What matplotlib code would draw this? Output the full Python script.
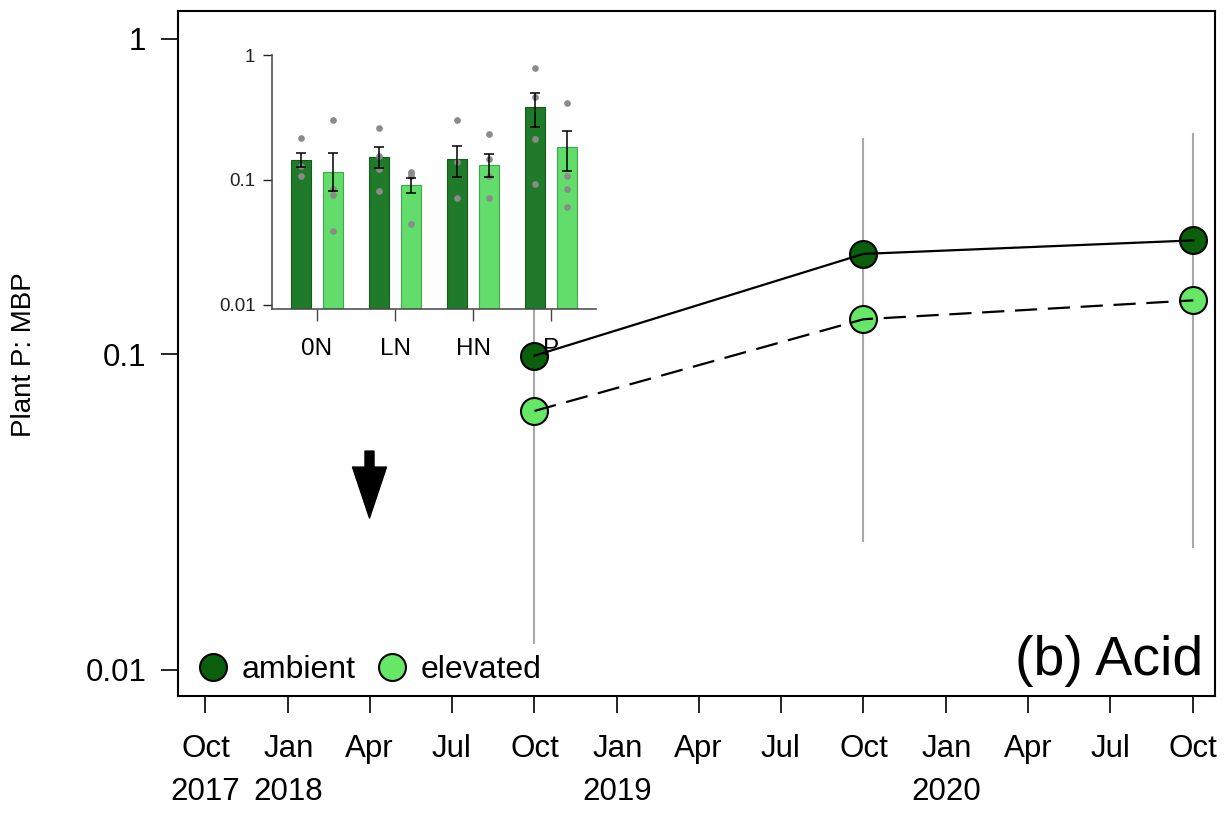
import datetime as dt
import matplotlib
matplotlib.use("Agg")
import matplotlib.pyplot as plt
import matplotlib.dates as mdates
from matplotlib.lines import Line2D

plt.rcParams['font.family'] = ['Liberation Sans', 'DejaVu Sans']

# main panel data
dates = [dt.date(2018, 10, 1), dt.date(2019, 10, 1), dt.date(2020, 10, 1)]
ambient = [0.0991, 0.2083, 0.2299]
elevated = [0.0662, 0.1293, 0.1484]
range_lo = [0.01218, 0.02557, 0.02458]
range_hi = [0.45, 0.4834, 0.5013]

arrow_date = dt.date(2018, 4, 1)
arrow_top = 0.0494
arrow_tip = 0.0303

tick_dates = [dt.date(2017, 10, 1), dt.date(2018, 1, 1), dt.date(2018, 4, 1),
              dt.date(2018, 7, 1), dt.date(2018, 10, 1), dt.date(2019, 1, 1),
              dt.date(2019, 4, 1), dt.date(2019, 7, 1), dt.date(2019, 10, 1),
              dt.date(2020, 1, 1), dt.date(2020, 4, 1), dt.date(2020, 7, 1),
              dt.date(2020, 10, 1)]
tick_labels = ['Oct\n2017', 'Jan\n2018', 'Apr', 'Jul', 'Oct', 'Jan\n2019', 'Apr',
               'Jul', 'Oct', 'Jan\n2020', 'Apr', 'Jul', 'Oct']

# inset data
groups = ['0N', 'LN', 'HN', 'P']
amb_mean = [0.1445, 0.1537, 0.147, 0.386]
amb_lo = [0.126, 0.1255, 0.106, 0.267]
amb_hi = [0.163, 0.1825, 0.188, 0.50]
elev_mean = [0.1166, 0.0918, 0.1327, 0.1825]
elev_lo = [0.0822, 0.0782, 0.105, 0.117]
elev_hi = [0.163, 0.1037, 0.160, 0.248]
amb_dots = [[0.217, 0.128, 0.108],
            [0.259, 0.156, 0.1225, 0.0817],
            [0.304, 0.138, 0.0713],
            [0.787, 0.458, 0.213, 0.093]]
elev_dots = [[0.304, 0.0847, 0.075, 0.0388],
             [0.1166, 0.113, 0.108, 0.0445],
             [0.235, 0.146, 0.108, 0.071],
             [0.413, 0.108, 0.0853, 0.0612]]

dark = '#0b5e0b'
light = '#66e866'
bar_dark = '#1f7a2a'
bar_light = '#62dc6a'

fig = plt.figure(figsize=(12.31, 8.21), dpi=100)
ax = fig.add_axes([0.1442, 0.1523, 0.8428, 0.8337])

x = mdates.date2num(dates)
for xi, lo, hi in zip(x, range_lo, range_hi):
    ax.plot([xi, xi], [lo, hi], color='#a8a8a8', lw=1.5, zorder=1)

ax.plot(x, ambient, 'o', ms=19.4, mfc=dark, mec='black', mew=1.5, zorder=3)
ax.plot(x, elevated, 'o', ms=19.4, mfc=light, mec='black', mew=1.5, zorder=3)
ax.plot(x, ambient, '-', color='black', lw=1.6, zorder=4)
ax.plot(x, elevated, '--', color='black', lw=1.6, dashes=(10, 4.8), zorder=4)

ax.annotate('', xy=(mdates.date2num(arrow_date), arrow_tip),
            xytext=(mdates.date2num(arrow_date), arrow_top),
            arrowprops=dict(arrowstyle='simple,head_length=36.7,head_width=24.5,tail_width=6.5',
                            mutation_scale=1, color='black', shrinkA=0, shrinkB=0))

ax.set_yscale('log')
ax.set_ylim(0.00827, 1.222)
ax.set_xlim(mdates.date2num(dt.date(2017, 8, 31)), mdates.date2num(dt.date(2020, 10, 25)))
ax.set_yticks([0.01, 0.1, 1])
ax.set_yticklabels(['0.01', '0.1', '1'])
ax.yaxis.set_minor_locator(matplotlib.ticker.NullLocator())
ax.set_xticks(mdates.date2num(tick_dates))
ax.set_xticklabels(tick_labels, linespacing=1.55)
ax.tick_params(axis='both', direction='out', length=12.5, width=1.2, labelsize=22.5)
ax.tick_params(axis='y', pad=10)
ax.tick_params(axis='x', pad=15)
for s in ax.spines.values():
    s.set_linewidth(1.5)

fig.text(24 / 1231, 0.5676, 'Plant P: MBP', rotation=90, ha='center', va='center', fontsize=20)

ax.text(0.9884, 0.0307, '(b) Acid', transform=ax.transAxes, ha='right', va='baseline',
        fontsize=40)

handles = [Line2D([], [], ls='none', marker='o', ms=19.4, mfc=dark, mec='black', mew=1.5),
           Line2D([], [], ls='none', marker='o', ms=19.4, mfc=light, mec='black', mew=1.5)]
ax.legend(handles, ['ambient', 'elevated'], loc='lower left', ncol=2, frameon=False,
          fontsize=23, handlelength=1.0, handletextpad=0.4, columnspacing=0.62,
          borderpad=0, borderaxespad=0, bbox_to_anchor=(0.019, 0.016))

# inset
ins = fig.add_axes([0.221, 0.6233, 0.2632, 0.3097])
gx = list(range(len(groups)))
off = 0.205
w = 0.256
ybot = 0.0092
ins.set_yscale('log')
ins.set_ylim(ybot, 1)
ins.set_xlim(-0.577, 3.577)
ins.bar([g - off for g in gx], [m - ybot for m in amb_mean], w, bottom=ybot,
        color=bar_dark, edgecolor='#145a1c', lw=0.8, zorder=2)
ins.bar([g + off for g in gx], [m - ybot for m in elev_mean], w, bottom=ybot,
        color=bar_light, edgecolor='#3fa84a', lw=0.8, zorder=2)
ins.errorbar([g - off for g in gx], amb_mean,
             yerr=[[m - l for m, l in zip(amb_mean, amb_lo)],
                   [h - m for m, h in zip(amb_mean, amb_hi)]],
             fmt='none', ecolor='black', elinewidth=1.1, capsize=3.6, capthick=1.1, zorder=4)
ins.errorbar([g + off for g in gx], elev_mean,
             yerr=[[m - l for m, l in zip(elev_mean, elev_lo)],
                   [h - m for m, h in zip(elev_mean, elev_hi)]],
             fmt='none', ecolor='black', elinewidth=1.1, capsize=3.6, capthick=1.1, zorder=4)
for g, dots in zip(gx, amb_dots):
    ins.plot([g - off] * len(dots), dots, 'o', color='#8a8a8a', ms=3.8, zorder=3)
for g, dots in zip(gx, elev_dots):
    ins.plot([g + off] * len(dots), dots, 'o', color='#8a8a8a', ms=3.8, zorder=3)

ins.spines['top'].set_visible(False)
ins.spines['right'].set_visible(False)
for s in ['left', 'bottom']:
    ins.spines[s].set_color('#444444')
    ins.spines[s].set_linewidth(1.1)
ins.set_yticks([0.01, 0.1, 1])
ins.set_yticklabels(['0.01', '0.1', '1'])
ins.yaxis.set_minor_locator(matplotlib.ticker.NullLocator())
ins.set_xticks(gx)
ins.set_xticklabels(groups)
ins.tick_params(axis='y', length=6.5, width=1, pad=5.5, labelsize=13.5, colors='#222222')
ins.tick_params(axis='x', length=8.5, width=1, pad=12, labelsize=17.5, color='#444444')

fig.savefig('out.png', dpi=100)
